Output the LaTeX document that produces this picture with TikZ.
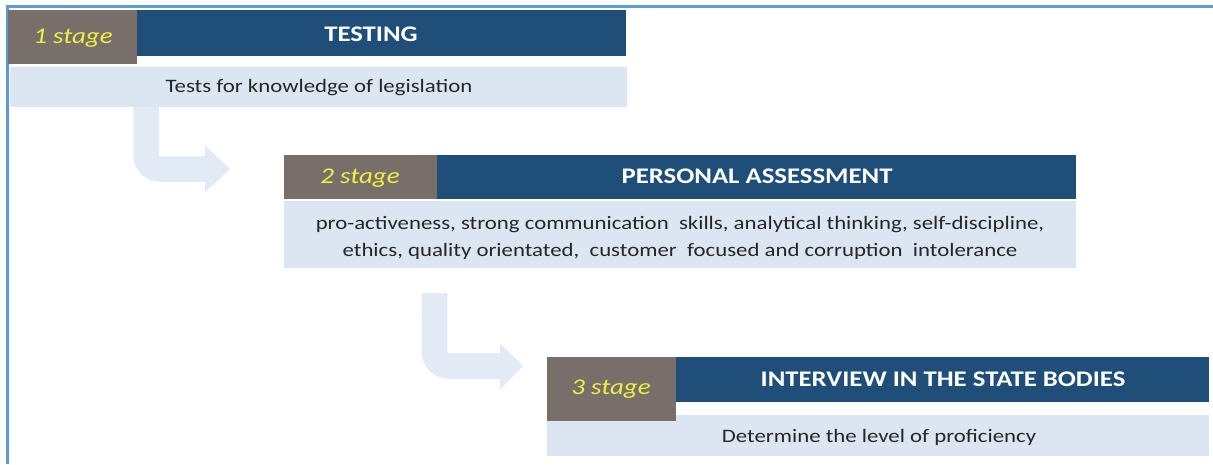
\documentclass[tikz,border=0pt]{standalone}
\usepackage{graphicx}
\usepackage{fontspec}
\setmainfont{Carlito}
\definecolor{stagegray}{HTML}{786F6B}
\definecolor{headblue}{HTML}{1F4E79}
\definecolor{lightbox}{HTML}{DCE6F2}
\definecolor{arrowblue}{HTML}{E1EAF5}
\definecolor{stageyellow}{HTML}{EEF044}
\definecolor{frameblue}{HTML}{5B9BD5}
\definecolor{bodytext}{HTML}{262626}
\newcommand{\wtxt}[1]{\scalebox{1.2}[1]{#1}}
\tikzset{
  box/.style={anchor=north west, inner sep=0pt, outer sep=0pt},
  graybox/.style={box, fill=stagegray},
  bluebox/.style={box, fill=headblue},
  lightbox/.style={box, fill=lightbox},
  stagetxt/.style={font=\fontsize{22.5}{26}\selectfont\itshape, text=stageyellow, inner sep=0pt},
  headtxt/.style={font=\fontsize{22.3}{26}\selectfont\bfseries, text=white, inner sep=0pt},
  bodytxt/.style={font=\fontsize{19}{27}\selectfont, text=bodytext, inner sep=0pt},
  flowband/.style={draw=arrowblue, line width=25.5pt, rounded corners=14pt},
  flowhead/.style={fill=arrowblue},
}
\begin{document}
\begin{tikzpicture}[x=1pt,y=-1pt]
\useasboundingbox (0,0) rectangle (1213,464);
\fill[white] (0,0) rectangle (1213,464);
% frame
\draw[frameblue, line width=2.2pt] (7.5,464) -- (7.5,6.5) -- (1213,6.5);

% arrows (drawn first, behind boxes)
\coordinate (a1s) at (146,100);
\coordinate (a1e) at (206,169);
\coordinate (a1t) at (230,169);
\draw[flowband] (a1s) |- (a1e);
\fill[flowhead] (205,145.5) -- (a1t) -- (205,192.5) -- cycle;

\coordinate (a2s) at (434.5,293);
\coordinate (a2e) at (501,366);
\coordinate (a2t) at (523,366);
\draw[flowband] (a2s) |- (a2e);
\fill[flowhead] (500,343.5) -- (a2t) -- (500,389.5) -- cycle;

% stage 1
\node[lightbox, minimum width=617pt, minimum height=40pt] (b1) at (10,67) {};
\node[bluebox, minimum width=489pt, minimum height=46pt] (h1) at (137,10) {};
\node[graybox, minimum width=129pt, minimum height=54pt] (g1) at (8,10) {};
\node[stagetxt] (s1) at (73,38) {\wtxt{1 stage}};
\node[headtxt] (t1) at (371,34) {\wtxt{TESTING}};
\node[bodytxt] (d1) at (319,88) {\wtxt{Tests for knowledge of legislation}};

% stage 2
\node[lightbox, minimum width=792pt, minimum height=67pt] (b2) at (284,201) {};
\node[bluebox, minimum width=639pt, minimum height=44pt] (h2) at (437,155) {};
\node[graybox, minimum width=153pt, minimum height=44pt] (g2) at (284,155) {};
\node[stagetxt] (s2) at (360,178) {\wtxt{2 stage}};
\node[headtxt] (t2) at (757,176.5) {\wtxt{PERSONAL ASSESSMENT}};
\node[bodytxt] (d2) at (680,238) {\wtxt{\begin{tabular}{@{}c@{}}pro-activeness, strong communication\ \ skills, analytical thinking, self-discipline,\\ethics, quality orientated,\ \ customer\ \ focused and corruption\ \ intolerance\end{tabular}}};

% stage 3
\node[lightbox, minimum width=662pt, minimum height=41pt] (b3) at (547,415) {};
\node[bluebox, minimum width=533pt, minimum height=45pt] (h3) at (676,357) {};
\node[graybox, minimum width=129pt, minimum height=64pt] (g3) at (547,357) {};
\node[stagetxt] (s3) at (611,389) {\wtxt{3 stage}};
\node[headtxt] (t3) at (943,379) {\wtxt{INTERVIEW IN THE STATE BODIES}};
\node[bodytxt] (d3) at (879,437) {\wtxt{Determine the level of proficiency}};
\end{tikzpicture}
\end{document}
